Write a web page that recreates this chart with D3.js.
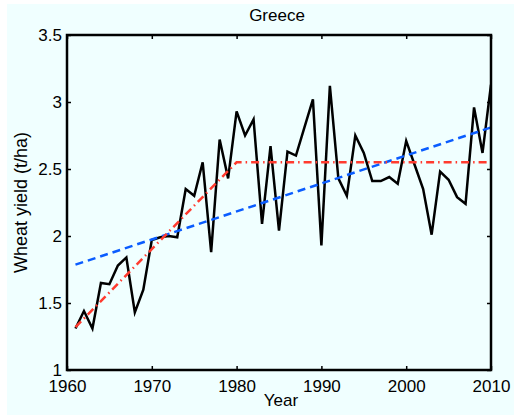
<!DOCTYPE html>
<html>
<head>
<meta charset="utf-8">
<script src="https://cdn.jsdelivr.net/npm/d3@7"></script>
<style>
  html, body { margin: 0; padding: 0; background: #ffffff; }
  svg { display: block; }
  text { font-family: "Liberation Sans", Arial, sans-serif; fill: #000; }
</style>
</head>
<body>
<script>
// Wheat yield in Greece, t/ha, 1961-2010
const years = d3.range(1961, 2011);
const yieldValues = [
  1.31, 1.44, 1.31, 1.65, 1.64, 1.78, 1.84, 1.43, 1.60, 1.97,
  1.99, 2.00, 1.99, 2.35, 2.30, 2.55, 1.88, 2.72, 2.43, 2.93,
  2.75, 2.87, 2.09, 2.67, 2.04, 2.63, 2.60, 2.81, 3.02, 1.93,
  3.12, 2.43, 2.30, 2.75, 2.62, 2.41, 2.41, 2.44, 2.39, 2.71,
  2.53, 2.35, 2.01, 2.48, 2.42, 2.29, 2.24, 2.96, 2.62, 3.13
];
// Linear trend (blue) endpoints
const linearYears = [1961, 2010];
const linearValues = [1.786, 2.81];
// Piecewise trend with plateau (red)
const plateauYears = [1961, 1980, 2010];
const plateauValues = [1.32, 2.55, 2.55];

const xTicks = [1960, 1970, 1980, 1990, 2000, 2010];
const yTicks = [1, 1.5, 2, 2.5, 3, 3.5];
const yTickLabels = ["1", "1.5", "2", "2.5", "3", "3.5"];

const W = 514, H = 418;
const plot = { left: 67, right: 491, top: 35, bottom: 370 };
const FONT = 17;

const svg = d3.select("body").append("svg").attr("width", W).attr("height", H);

// figure background
svg.append("rect").attr("x", 7).attr("y", 4).attr("width", W - 7).attr("height", H - 7)
  .attr("fill", "#f0ffff");

const x = d3.scaleLinear().domain([1960, 2010]).range([plot.left, plot.right]);
const y = d3.scaleLinear().domain([1, 3.5]).range([plot.bottom, plot.top]);

const line = d3.line().x(d => x(d[0])).y(d => y(d[1]));

svg.append("clipPath").attr("id", "plotclip").append("rect")
  .attr("x", plot.left).attr("y", plot.top)
  .attr("width", plot.right - plot.left).attr("height", plot.bottom - plot.top);

const g = svg.append("g").attr("clip-path", "url(#plotclip)");

g.append("path")
  .datum(years.map((yr, i) => [yr, yieldValues[i]]))
  .attr("d", line).attr("fill", "none")
  .attr("stroke", "#000").attr("stroke-width", 2.5).attr("stroke-linejoin", "miter");

g.append("path")
  .datum(linearYears.map((yr, i) => [yr, linearValues[i]]))
  .attr("d", line).attr("fill", "none")
  .attr("stroke", "#0a5cff").attr("stroke-width", 2.5).attr("stroke-dasharray", "8,5");

g.append("path")
  .datum(plateauYears.map((yr, i) => [yr, plateauValues[i]]))
  .attr("d", line).attr("fill", "none")
  .attr("stroke", "#ff3b2f").attr("stroke-width", 2.5).attr("stroke-dasharray", "8,4,1.5,4");

// axes: ticks point inward, labels outside
const axB = d3.axisBottom(x).tickValues(xTicks).tickFormat(d3.format("d")).tickSize(-4).tickPadding(10);
const axT = d3.axisTop(x).tickValues(xTicks).tickFormat("").tickSize(-4);
const axL = d3.axisLeft(y).tickValues(yTicks).tickFormat((d, i) => yTickLabels[i]).tickSize(-4).tickPadding(5);
const axR = d3.axisRight(y).tickValues(yTicks).tickFormat("").tickSize(-4);

function styleAxis(sel) {
  sel.select(".domain").remove();
  sel.selectAll(".tick line").attr("stroke", "#000").attr("stroke-width", 1.5);
  sel.selectAll(".tick text").attr("font-size", FONT).attr("fill", "#000")
    .attr("font-family", "Liberation Sans, Arial, sans-serif");
}

svg.append("g").attr("transform", `translate(0,${plot.bottom})`).call(axB).call(styleAxis);
svg.append("g").attr("transform", `translate(0,${plot.top})`).call(axT).call(styleAxis);
svg.append("g").attr("transform", `translate(${plot.left},0)`).call(axL).call(styleAxis);
svg.append("g").attr("transform", `translate(${plot.right},0)`).call(axR).call(styleAxis);

// frame
svg.append("rect").attr("x", plot.left).attr("y", plot.top)
  .attr("width", plot.right - plot.left).attr("height", plot.bottom - plot.top)
  .attr("fill", "none").attr("stroke", "#000").attr("stroke-width", 2.5);

// titles
svg.append("text").attr("x", 277).attr("y", 21)
  .attr("text-anchor", "middle").attr("font-size", FONT).text("Greece");
svg.append("text").attr("x", 281).attr("y", 406)
  .attr("text-anchor", "middle").attr("font-size", FONT).text("Year");
svg.append("text")
  .attr("transform", `translate(27,${(plot.top + plot.bottom) / 2}) rotate(-90)`)
  .attr("text-anchor", "middle").attr("font-size", 18).text("Wheat yield (t/ha)");
</script>
</body>
</html>
